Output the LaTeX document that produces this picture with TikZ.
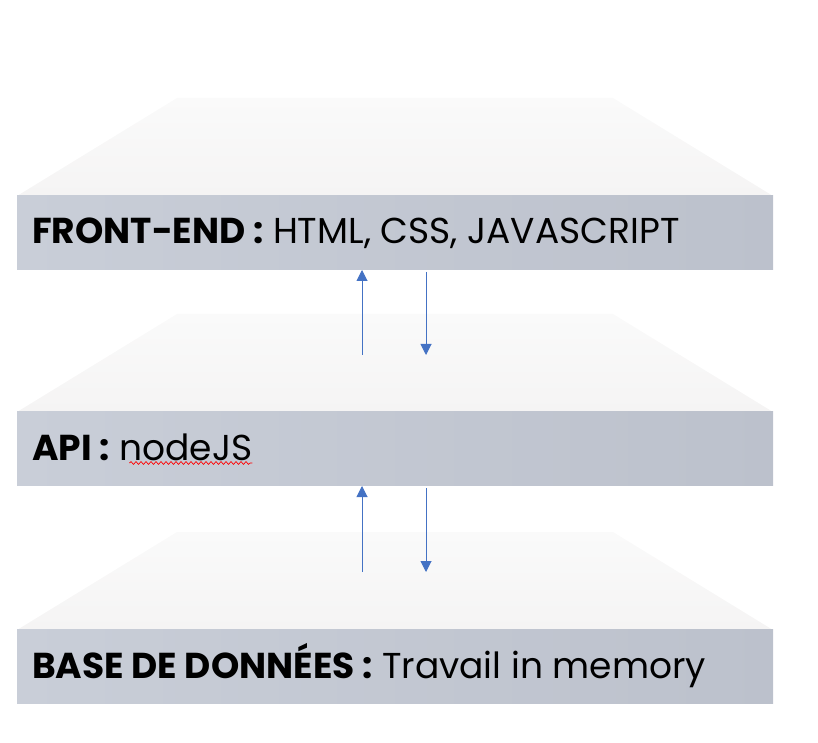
\documentclass[tikz,border=0pt]{standalone}
\usepackage{fontspec}
\setmainfont{Poppins}
\usetikzlibrary{calc}
\usetikzlibrary{arrows.meta}
\usetikzlibrary{decorations.pathmorphing}
\definecolor{slabfront}{RGB}{201,206,216}
\definecolor{slabfrontdark}{RGB}{188,193,204}
\definecolor{slabtop}{RGB}{245,244,244}
\definecolor{slabback}{RGB}{250,250,250}
\definecolor{flowblue}{RGB}{68,114,196}

\begin{document}
\begin{tikzpicture}[x=1pt,y=1pt,
  front/.style={anchor=south west, inner sep=0, minimum width=756, minimum height=74, left color=slabfront, right color=slabfrontdark},
  flow/.style={flowblue, line width=1pt, -{Triangle[width=11pt,length=11pt]}},
  lbl/.style={anchor=base west, inner sep=0, font=\fontsize{36}{44}\selectfont}]
\useasboundingbox (0,0) rectangle (818,742);
% the three layers
\foreach \y/\name/\head/\rest in {472/fe/{FRONT-END :}/{HTML, CSS, JAVASCRIPT}, 256/api/{API :}/{nodeJS}, 38/bdd/{BASE DE DONNÉES :}/{Travail in memory}} {
  \shade[top color=slabback, bottom color=slabtop] (17,\y+74) -- (773,\y+74) -- (613,\y+172) -- (177,\y+172) -- cycle;
  \node[front] (\name) at (17,\y) {};
  \node[lbl] (\name-text) at ($(\name.south west)+(15,26)$) {\textbf{\head} \rest};
}
\draw[red, line width=.7pt, decorate, decoration={snake, amplitude=1.3pt, segment length=5pt}] ($(api-text.base east)+(-123,-3)$) -- ($(api-text.base east)+(0,-3)$);
% requests and answers
\coordinate (up1) at (362,387);
\coordinate (dn1) at (426,387);
\coordinate (up2) at (362,170);
\coordinate (dn2) at (426,170);
\draw[flow] (up1) -- (up1 |- fe.south);
\draw[flow] (dn1 |- fe.south) ++(0,-2) -- (dn1);
\draw[flow] (up2) -- (up2 |- api.south);
\draw[flow] (dn2 |- api.south) ++(0,-2) -- (dn2);
\end{tikzpicture}
\end{document}
